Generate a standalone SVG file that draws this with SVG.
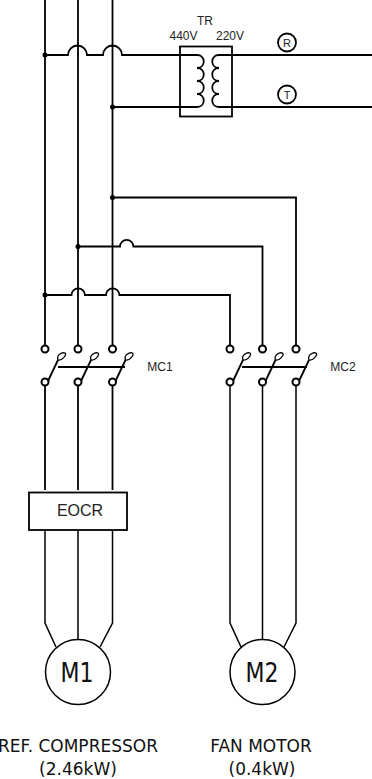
<svg xmlns="http://www.w3.org/2000/svg" width="372" height="779" viewBox="0 0 372 779">
<style>
.w{fill:none;stroke:#000;stroke-width:1.8}
.l{fill:none;stroke:#000;stroke-width:1.5}
.t{fill:none;stroke:#000;stroke-width:1.3}
.c{fill:#fff;stroke:#000;stroke-width:2}
.m{fill:#fff;stroke:#000;stroke-width:1.5}
.d{fill:#000}
.a{font-family:"Liberation Sans",Arial,sans-serif;font-size:12px;fill:#222;text-anchor:middle}
.v{font-family:"DejaVu Sans",Verdana,sans-serif;fill:#111;text-anchor:middle}
</style>
<defs>
<g id="pole">
<path class="w" d="M3 32L13 11"/>
<path class="t" d="M13 11C11 6 17 3 20 4C22 6 17 12 13 11Z"/>
<circle class="c" cx="0" cy="0" r="3.500"/>
<circle class="c" cx="0" cy="33" r="3.500"/>
</g>
</defs>
<g id="connectors">
<path class="w" d="M45 0V345M78 0V345M112.500 0V345"/>
<path class="w" d="M45 55H68A9.500 9.500 0 0 1 87 55H103A9.500 9.500 0 0 1 122 55H180"/>
<path class="w" d="M112.500 107H180"/>
<path class="w" d="M232 55H372M232 107H372"/>
<path class="w" d="M112.500 197.500H296V345"/>
<path class="w" d="M78 246.500H120A6.700 6.700 0 0 1 133.400 246.500H262.500V345"/>
<path class="w" d="M45 295H71.500A6.700 6.700 0 0 1 84.900 295H106A6.700 6.700 0 0 1 119.400 295H230V345"/>
<path class="w" d="M45 386V490M78 386V490M112.500 386V490"/>
<path class="l" d="M45 530V623L56 647M78 530V640M112.500 530V623L100 647"/>
<path class="l" d="M230 386V623L241 647M262.500 386V640M296 386V623L284 647"/>
<path class="w" d="M58 367H125M242 367H307"/>
<circle class="d" cx="45" cy="55" r="2.500"/>
<circle class="d" cx="112.500" cy="107" r="2.500"/>
<circle class="d" cx="112.500" cy="197.500" r="2.500"/>
<circle class="d" cx="78" cy="246.500" r="2.500"/>
<circle class="d" cx="45" cy="295" r="2.500"/>
</g>
<g id="TR">
<rect x="180" y="46.500" width="52" height="70" fill="#fff" stroke="#000" stroke-width="1.800"/>
<path class="w" d="M180 55H197C206 55 206 68 197 68C206 68 206 81 197 81C206 81 206 94 197 94C206 94 206 107 197 107H180"/>
<path class="w" d="M232 55H219C210 55 210 68 219 68C210 68 210 81 219 81C210 81 210 94 219 94C210 94 210 107 219 107H232"/>
<text class="a" x="205" y="25">TR</text>
<text class="a" x="183.500" y="40">440V</text>
<text class="a" x="230" y="40">220V</text>
</g>
<g id="R"><circle class="w" cx="287" cy="42.500" r="9"/><text class="a" x="287" y="46.500" style="font-size:11px">R</text></g>
<g id="T"><circle class="w" cx="287" cy="94.500" r="9"/><text class="a" x="287" y="98.500" style="font-size:11px">T</text></g>
<g id="MC1">
<use href="#pole" x="45" y="349"/><use href="#pole" x="78" y="349"/><use href="#pole" x="112.500" y="349"/>
<text class="a" x="160" y="371">MC1</text>
</g>
<g id="MC2">
<use href="#pole" x="230" y="349"/><use href="#pole" x="262.500" y="349"/><use href="#pole" x="296" y="349"/>
<text class="a" x="343" y="371">MC2</text>
</g>
<g id="EOCR">
<rect x="29" y="492.500" width="98" height="37.500" fill="#fff" stroke="#000" stroke-width="1.800"/>
<text class="a" x="80" y="516" style="font-size:16px">EOCR</text>
</g>
<g id="M1">
<circle class="m" cx="78" cy="672" r="32.500"/>
<text class="v" x="77" y="682" font-size="26" textLength="33" lengthAdjust="spacingAndGlyphs">M1</text>
<text class="v" x="78" y="752" font-size="17">REF. COMPRESSOR</text>
<text class="v" x="78" y="775" font-size="17">(2.46kW)</text>
</g>
<g id="M2">
<circle class="m" cx="262.500" cy="672" r="32.500"/>
<text class="v" x="262" y="682" font-size="26" textLength="33" lengthAdjust="spacingAndGlyphs">M2</text>
<text class="v" x="261" y="752" font-size="17">FAN MOTOR</text>
<text class="v" x="262" y="775" font-size="17">(0.4kW)</text>
</g>
</svg>
